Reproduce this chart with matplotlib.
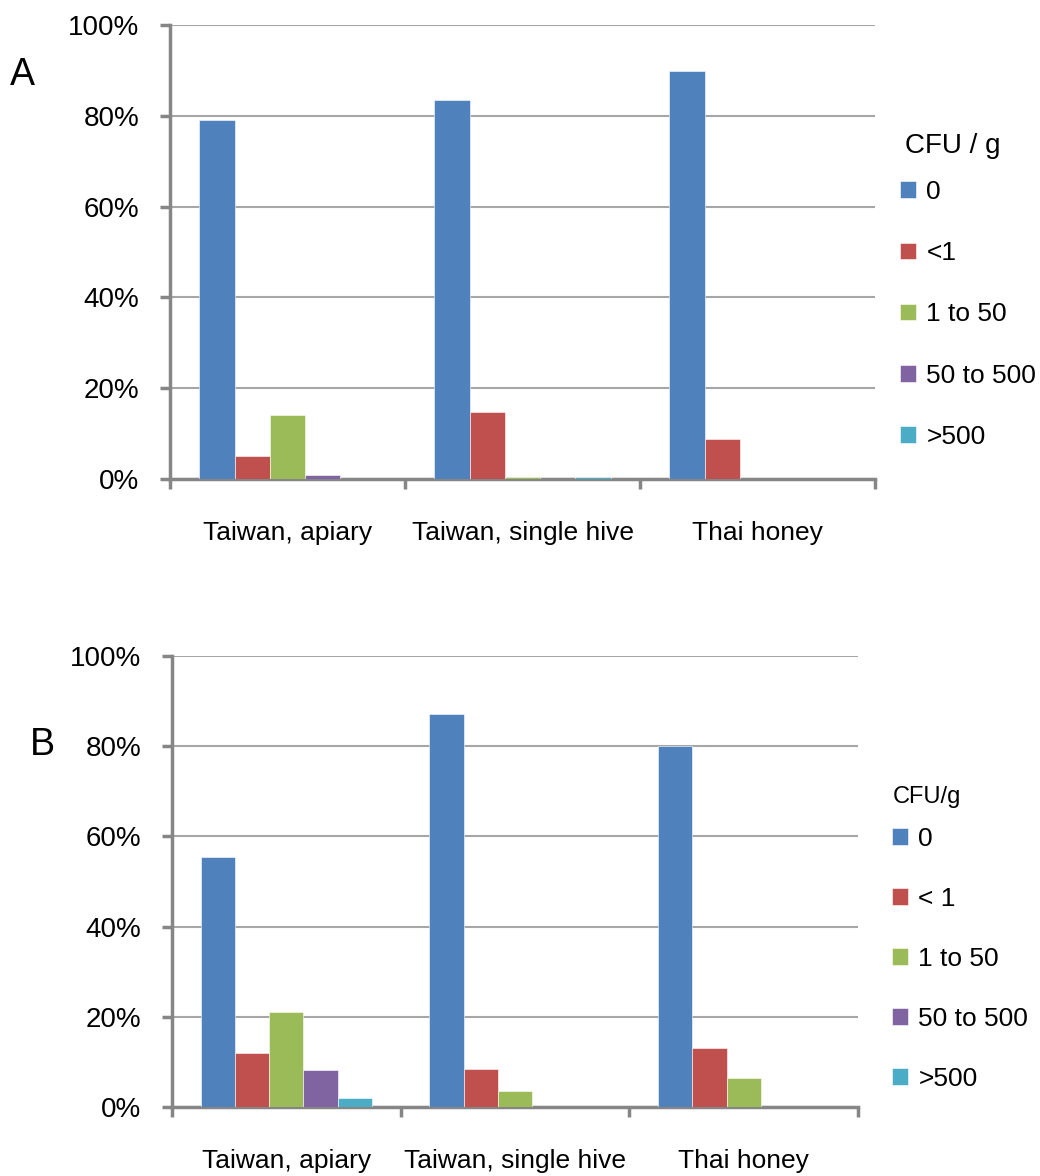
import matplotlib.pyplot as plt
import numpy as np

plt.rcParams['font.family'] = ['Liberation Sans', 'DejaVu Sans']

# Data (percent of samples)
categories = ["Taiwan, apiary", "Taiwan, single hive", "Thai honey"]
legend_a = ["0", "<1", "1 to 50", "50 to 500", ">500"]
legend_b = ["0", "< 1", "1 to 50", "50 to 500", ">500"]

# panel A, one list per CFU class (apiary, single hive, Thai)
a_zero = [79.1, 83.5, 89.9]
a_lt1 = [5.0, 14.8, 8.8]
a_1_50 = [14.0, 0.4, 0.0]
a_50_500 = [0.9, 0.0, 0.0]
a_gt500 = [0.0, 0.4, 0.0]

# panel B
b_zero = [55.5, 87.1, 80.0]
b_lt1 = [11.9, 8.4, 13.0]
b_1_50 = [21.0, 3.6, 6.4]
b_50_500 = [8.1, 0.0, 0.0]
b_gt500 = [2.1, 0.0, 0.0]

colors = ["#4F81BD", "#C0504D", "#9BBB59", "#8064A2", "#4BACC6"]
AXIS_GREY = "#868686"
GRID_GREY = "#A6A6A6"

W, H = 1040, 1176


def draw_panel(ax, series, labels, leg_x, leg_top, spacing):
    x = np.arange(len(categories))
    width = 0.15
    n = len(series)
    for i, (vals, lab) in enumerate(zip(series, labels)):
        offs = (i - (n - 1) / 2) * width
        ax.bar(x + offs, vals, width, color=colors[i], label=lab,
               edgecolor="white", linewidth=0.4, zorder=3)

    ax.set_xlim(-0.5, 2.5)
    ax.set_ylim(0, 100)
    ax.set_yticks(np.arange(0, 101, 20))
    ax.set_yticklabels([f"{v}%" for v in range(0, 101, 20)], fontsize=20)
    ax.yaxis.grid(True, color=GRID_GREY, linewidth=1.5, zorder=0)
    ax.set_axisbelow(True)

    # category boundaries as major ticks, names as minor ticks
    ax.set_xticks([-0.5, 0.5, 1.5, 2.5])
    ax.set_xticklabels([])
    ax.set_xticks(x, minor=True)
    ax.set_xticklabels(categories, minor=True, fontsize=19)
    ax.tick_params(axis="x", which="minor", length=0, pad=30)
    ax.tick_params(axis="x", which="major", length=7, width=2.5, color=AXIS_GREY)
    ax.tick_params(axis="y", length=7, width=2.5, color=AXIS_GREY, pad=15)

    for s in ["top", "right"]:
        ax.spines[s].set_visible(False)
    for s in ["left", "bottom"]:
        ax.spines[s].set_color(AXIS_GREY)
        ax.spines[s].set_linewidth(2.5)

    leg = ax.legend(loc="upper left", bbox_to_anchor=(leg_x / W, 1 - leg_top / H),
                    bbox_transform=fig.transFigure,
                    frameon=False, fontsize=19,
                    handlelength=0.6, handleheight=0.6, handletextpad=0.4,
                    labelspacing=spacing, borderaxespad=0, borderpad=0)
    return leg


fig = plt.figure(figsize=(W / 100, H / 100), dpi=100)
ax_a = fig.add_axes([170 / W, 1 - 479 / H, 705 / W, 454 / H])
ax_b = fig.add_axes([172 / W, 1 - 1107 / H, 686 / W, 451 / H])

draw_panel(ax_a, [a_zero, a_lt1, a_1_50, a_50_500, a_gt500], legend_a, 900, 180, 1.41)
draw_panel(ax_b, [b_zero, b_lt1, b_1_50, b_50_500, b_gt500], legend_b, 892, 827, 1.36)

fig.text(905 / W, 1 - 146 / H, "CFU / g", fontsize=20, va="center", ha="left")
fig.text(893 / W, 1 - 797 / H, "CFU/g", fontsize=17, va="center", ha="left")

fig.text(10 / W, 1 - 75 / H, "A", fontsize=27, va="center", ha="left")
fig.text(30 / W, 1 - 745 / H, "B", fontsize=27, va="center", ha="left")

fig.savefig("out.png", dpi=100)
